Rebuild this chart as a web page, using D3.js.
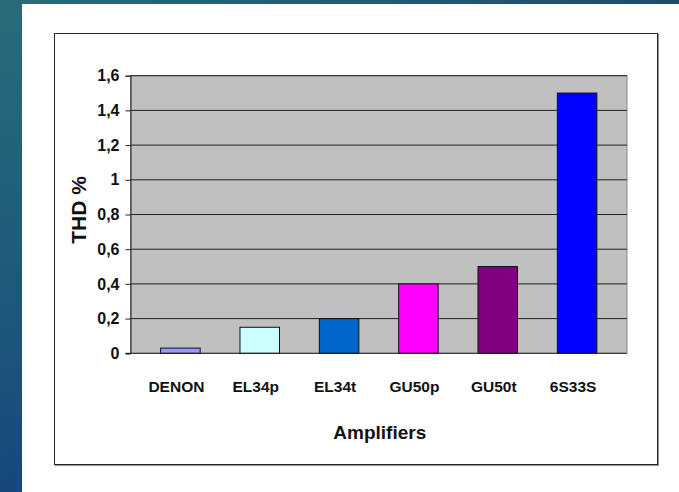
<!DOCTYPE html>
<html>
<head>
<meta charset="utf-8">
<script src="https://cdn.jsdelivr.net/npm/d3@7"></script>
<style>
  html, body { margin: 0; padding: 0; background: #1f5a78; }
  svg { display: block; }
</style>
</head>
<body>
<script>
// THD measurements per amplifier
const categories = ["DENON", "EL34p", "EL34t", "GU50p", "GU50t", "6S33S"];
const thdValues = [0.03, 0.15, 0.2, 0.4, 0.5, 1.5];
const barColors = ["#9999FF", "#CCFFFF", "#0066CC", "#FF00FF", "#800080", "#0000FF"];
const yTicks = [0, 0.2, 0.4, 0.6, 0.8, 1, 1.2, 1.4, 1.6];
const yTickLabels = ["0", "0,2", "0,4", "0,6", "0,8", "1", "1,2", "1,4", "1,6"];

const W = 679, H = 492;
const svg = d3.select("body").append("svg").attr("width", W).attr("height", H);

// slide background
const defs = svg.append("defs");
const bg = defs.append("linearGradient").attr("id", "bg")
  .attr("x1", 0).attr("y1", 0).attr("x2", 0.35).attr("y2", 1);
bg.append("stop").attr("offset", 0).attr("stop-color", "#2a6b79");
bg.append("stop").attr("offset", 0.5).attr("stop-color", "#1f5a7a");
bg.append("stop").attr("offset", 1).attr("stop-color", "#15427c");
const bgTop = defs.append("linearGradient").attr("id", "bgTop")
  .attr("x1", 0).attr("y1", 0).attr("x2", 1).attr("y2", 0);
bgTop.append("stop").attr("offset", 0).attr("stop-color", "#2a6b79");
bgTop.append("stop").attr("offset", 1).attr("stop-color", "#1d4c70");

svg.append("rect").attr("width", W).attr("height", H).attr("fill", "url(#bg)");
svg.append("rect").attr("width", W).attr("height", 4).attr("fill", "url(#bgTop)");

// white page
svg.append("rect").attr("x", 22).attr("y", 4).attr("width", W - 22).attr("height", H - 4).attr("fill", "#ffffff");

// chart frame with a soft shadow
svg.append("rect").attr("x", 55.5).attr("y", 34.5).attr("width", 603).attr("height", 431)
  .attr("fill", "none").attr("stroke", "#9a9a9a").attr("stroke-width", 1.2);
svg.append("rect").attr("x", 54.5).attr("y", 33.5).attr("width", 603).attr("height", 431)
  .attr("fill", "#ffffff").attr("stroke", "#222").attr("stroke-width", 1);

const plot = { left: 130.5, right: 627, top: 75.7, bottom: 353.3 };

const x = d3.scaleBand().domain(categories)
  .range([plot.left, plot.right])
  .paddingInner(0.502).paddingOuter(0.38);
const y = d3.scaleLinear().domain([0, 1.6]).range([plot.bottom, plot.top]);

const FONT = "Liberation Sans, Arial, sans-serif";

// plot area
svg.append("rect")
  .attr("x", plot.left).attr("y", plot.top)
  .attr("width", plot.right - plot.left).attr("height", plot.bottom - plot.top)
  .attr("fill", "#C0C0C0").attr("stroke", "#8a8a8a").attr("stroke-width", 1);

// gridlines
svg.append("g").selectAll("line").data(yTicks.slice(1)).join("line")
  .attr("x1", plot.left).attr("x2", plot.right)
  .attr("y1", d => y(d)).attr("y2", d => y(d))
  .attr("stroke", "#222").attr("stroke-width", 1);

// bars
svg.append("g").selectAll("rect").data(categories).join("rect")
  .attr("x", d => x(d))
  .attr("width", x.bandwidth())
  .attr("y", (d, i) => y(thdValues[i]))
  .attr("height", (d, i) => y(0) - y(thdValues[i]))
  .attr("fill", (d, i) => barColors[i])
  .attr("stroke", "#111").attr("stroke-width", 1);

// y axis
const yAxis = d3.axisLeft(y).tickValues(yTicks)
  .tickFormat((d, i) => yTickLabels[i]).tickSizeOuter(0).tickSize(5).tickPadding(6);
const gy = svg.append("g").attr("transform", `translate(${plot.left},0)`).call(yAxis);
gy.select(".domain").attr("stroke", "#222");
gy.selectAll(".tick line").attr("stroke", "#222");
gy.selectAll("text").attr("font-family", FONT)
  .attr("font-weight", "bold").attr("font-size", 16).attr("fill", "#111");

// x baseline
svg.append("line").attr("x1", plot.left - 5).attr("x2", plot.right)
  .attr("y1", plot.bottom).attr("y2", plot.bottom)
  .attr("stroke", "#222").attr("stroke-width", 1);

// category labels
svg.append("g").selectAll("text").data(categories).join("text")
  .attr("x", d => x(d) + x.bandwidth() / 2 - 4)
  .attr("y", 392)
  .attr("text-anchor", "middle")
  .attr("font-family", FONT)
  .attr("font-weight", "bold").attr("font-size", 15.5).attr("fill", "#111")
  .text(d => d);

// axis titles
svg.append("text")
  .attr("x", (plot.left + plot.right) / 2 + 1).attr("y", 439)
  .attr("text-anchor", "middle")
  .attr("font-family", FONT)
  .attr("font-weight", "bold").attr("font-size", 19).attr("fill", "#111")
  .text("Amplifiers");

svg.append("text")
  .attr("transform", `translate(85.5,210) rotate(-90)`)
  .attr("text-anchor", "middle")
  .attr("font-family", FONT)
  .attr("font-weight", "bold").attr("font-size", 21).attr("fill", "#111")
  .text("THD %");
</script>
</body>
</html>
